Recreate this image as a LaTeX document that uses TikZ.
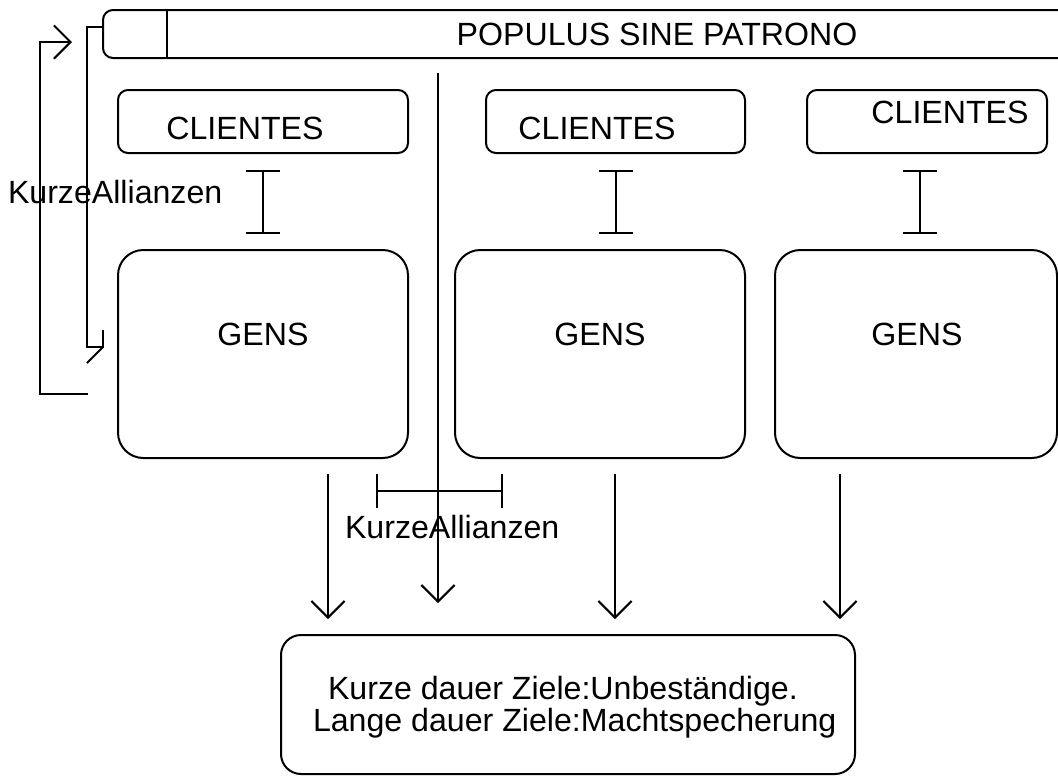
\documentclass[tikz,border=0pt]{standalone}
\usepackage{fontspec}
\setmainfont{Liberation Sans}
\usetikzlibrary{arrows.meta,fit,calc}
\begin{document}
\begin{tikzpicture}[x=0.75pt,y=-0.75pt,
  line width=1.5pt,
  every node/.style={font=\fontsize{24.1}{21.75}\selectfont, inner sep=0pt, outer sep=0pt},
  box/.style={draw, rounded corners=#1},
  box/.default=7.5pt,
  lbl/.style={anchor=base},
  lblw/.style={anchor=base west},
  arr/.style={-{Straight Barb[length=12.5pt,width=25pt]}},
  ibar/.style={{Bar[width=25.5pt]}-{Bar[width=25.5pt]}},
]
\useasboundingbox (0,0) rectangle (1058,776);
\clip (0,0) rectangle (1058,776);

% top bar with its small left compartment
\node[box, fit={(103,10) (1070,58)}] (pop) {};
\draw ($(pop.north west)+(64,0)$) -- ($(pop.south west)+(64,0)$);
\node[lbl] (popt) at (657,45) {POPULUS SINE PATRONO};

% client boxes
\node[box, fit={(118,90) (408,153)}] (c1) {};
\node[box, fit={(486,90) (745,153)}] (c2) {};
\node[box, fit={(807,90) (1047,153)}] (c3) {};
\node[lbl] (c1t) at (245,139) {CLIENTES};
\node[lbl] (c2t) at (597,139) {CLIENTES};
\node[lbl] (c3t) at (950,123) {CLIENTES};

% gens boxes
\node[box=19pt, fit={(118,250) (408,458)}] (g1) {};
\node[box=19pt, fit={(455,250) (745,458)}] (g2) {};
\node[box=19pt, fit={(775,250) (1057,458)}] (g3) {};
\node[lbl] (g1t) at (263,345) {GENS};
\node[lbl] (g2t) at (600,345) {GENS};
\node[lbl] (g3t) at (917,345) {GENS};

% goals box (the node's base is the baseline of its last line)
\node[box=15pt, fit={(281,635) (855,774)}] (b) {};
\node[lblw, align=left] (bt) at (313,731)
  {\hspace*{11.25pt}Kurze dauer Ziele:Unbeständige.\\Lange dauer Ziele:Machtspecherung};

% clientes -- gens links
\draw[ibar] ($(c1.south)+(0,17)$) -- ($(g1.north)+(0,-16)$);
\draw[ibar] ($(c2.south)+(0,17)$) -- ($(c2.south |- g2.north)+(0,-16)$);
\draw[ibar] ($(c3.south)+(-7,17)$) -- ($(c3.south |- g3.north)+(-7,-16)$);

% short alliance between the first two gentes
\draw[ibar] ($(g1.south east)+(-32,33)$) -- ($(g2.south west)+(48,33)$);
\node[lblw] (ka2) at (345,538) {KurzeAllianzen};

% arrows down to the goals
\coordinate (x1) at ($(g1.south)+(65,16)$);
\coordinate (x2) at ($(g2.south)+(15,16)$);
\coordinate (x3) at ($(g3.south)+(-76,16)$);
\coordinate (x0) at ($(pop.south)+(-148.5,15)$);
\draw[arr] (x1) -- ($(x1 |- b.north)+(0,-16)$);
\draw[arr] (x2) -- ($(x2 |- b.north)+(0,-16)$);
\draw[arr] (x3) -- ($(x3 |- b.north)+(0,-16)$);
\draw[arr] (x0) -- ($(x0 |- b.north)+(0,-32)$);

% left brackets
\coordinate (ib) at ($(pop.north west)+(0,17)$);
\coordinate (ie) at ($(ib)+(0,320)$);
\draw (ib) -- ++(-16,0) |- (ie) -- ++(0,-17);
\draw (ie) -- ++(-16,16);
\coordinate (ob) at (88,394);
\draw[arr] (ob) -| ($(ob)+(-48,-352)$) -- ++(32,0);
\node[lblw] (ka1) at (8,203) {KurzeAllianzen};
\end{tikzpicture}
\end{document}
